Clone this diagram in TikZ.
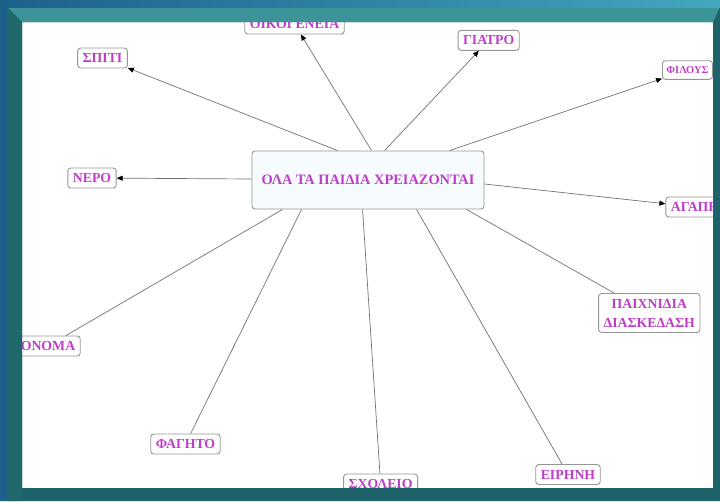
\documentclass[tikz,border=0pt]{standalone}
\usepackage{fontspec}
\setmainfont{Liberation Serif}
\usetikzlibrary{arrows.meta}

\definecolor{rim}{RGB}{30,98,106}
\definecolor{rimtop}{RGB}{60,148,152}
\definecolor{rimleft}{RGB}{31,104,108}
\definecolor{outerblue}{RGB}{30,96,140}
\definecolor{labelpink}{RGB}{190,62,200}
\definecolor{boxgray}{RGB}{150,150,150}
\definecolor{hubfill}{RGB}{246,252,253}

\tikzset{
  idea/.style={draw=boxgray, line width=0.9pt, rounded corners=3pt, fill=white,
    text=labelpink, font=\fontsize{13.8}{19}\selectfont\bfseries,
    inner xsep=5pt, inner ysep=0pt, minimum height=20pt, align=center},
  hubbox/.style={idea, fill=hubfill, minimum width=232pt, minimum height=58pt,
    font=\fontsize{14.4}{18}\selectfont\bfseries},
  link/.style={draw=gray!90!black, line width=0.7pt},
  arr/.style={link, -{Triangle[length=6pt,width=5pt,color=black]}}
}

\begin{document}
\begin{tikzpicture}[x=1pt,y=-1pt]
  \useasboundingbox (0,0) rectangle (720,501);
  \fill[white] (0,0) rectangle (720,501);

  % centre
  \node[hubbox] (H) at (368,180) {ΟΛΑ ΤΑ ΠΑΙΔΙΑ ΧΡΕΙΑΖΟΝΤΑΙ};

  % ideas round it
  \node[idea] (Sp) at (102.5,58) {ΣΠΙΤΙ};
  \node[idea] (Oi) at (294.5,24) {ΟΙΚΟΓΕΝΕΙΑ};
  \node[idea] (Gi) at (488.7,40.3) {ΓΙΑΤΡΟ};
  \node[idea, font=\fontsize{10.5}{12}\selectfont\bfseries, minimum height=18.6pt,
    inner xsep=4pt] (Fi) at (687.5,70) {ΦΙΛΟΥΣ};
  \node[idea] (Ne) at (92,178) {ΝΕΡΟ};
  \node[idea] (Ag) at (695,207) {ΑΓΑΠΗ};
  \node[idea, minimum height=39pt] (Pa) at (649.3,313) {ΠΑΙΧΝΙΔΙΑ\\ΔΙΑΣΚΕΔΑΣΗ};
  \node[idea] (On) at (48,346) {ΟΝΟΜΑ};
  \node[idea] (Fa) at (185.5,444) {ΦΑΓΗΤΟ};
  \node[idea] (Sx) at (380.6,484) {ΣΧΟΛΕΙΟ};
  \node[idea] (Ei) at (568,474.5) {ΕΙΡΗΝΗ};

  \draw[arr] ([xshift=86pt]H.north west) to (Sp);
  \draw[arr] ([xshift=120pt]H.north west) to (Oi);
  \draw[arr] ([xshift=133pt]H.north west) to (Gi);
  \draw[arr] ([xshift=198pt]H.north west) to (Fi);
  \draw[arr] ([yshift=1pt]H.west) to (Ne);
  \draw[arr] ([yshift=-4pt]H.east) to (Ag);
  \draw[link] ([xshift=215pt]H.south west) to (Pa);
  \draw[link] ([xshift=165pt]H.south west) to (Ei);
  \draw[link] ([xshift=111pt]H.south west) to (Sx);
  \draw[link] ([xshift=50pt]H.south west) to (Fa);
  \draw[link] ([xshift=31pt]H.south west) to (On);

  % frame over the canvas edge
  \fill[rim, even odd rule] (0,0) rectangle (720,501) (22,22) rectangle (713,488);
  \fill[rimtop] (7,7) -- (720,7) -- (713,22) -- (22,22) -- cycle;
  \fill[rimleft] (7,7) -- (22,22) -- (22,501) -- (7,501) -- cycle;
  \fill[left color=outerblue, right color=outerblue!70!cyan!80!white] (0,0) rectangle (720,7);
  \fill[outerblue] (0,0) rectangle (7,501);
\end{tikzpicture}
\end{document}
